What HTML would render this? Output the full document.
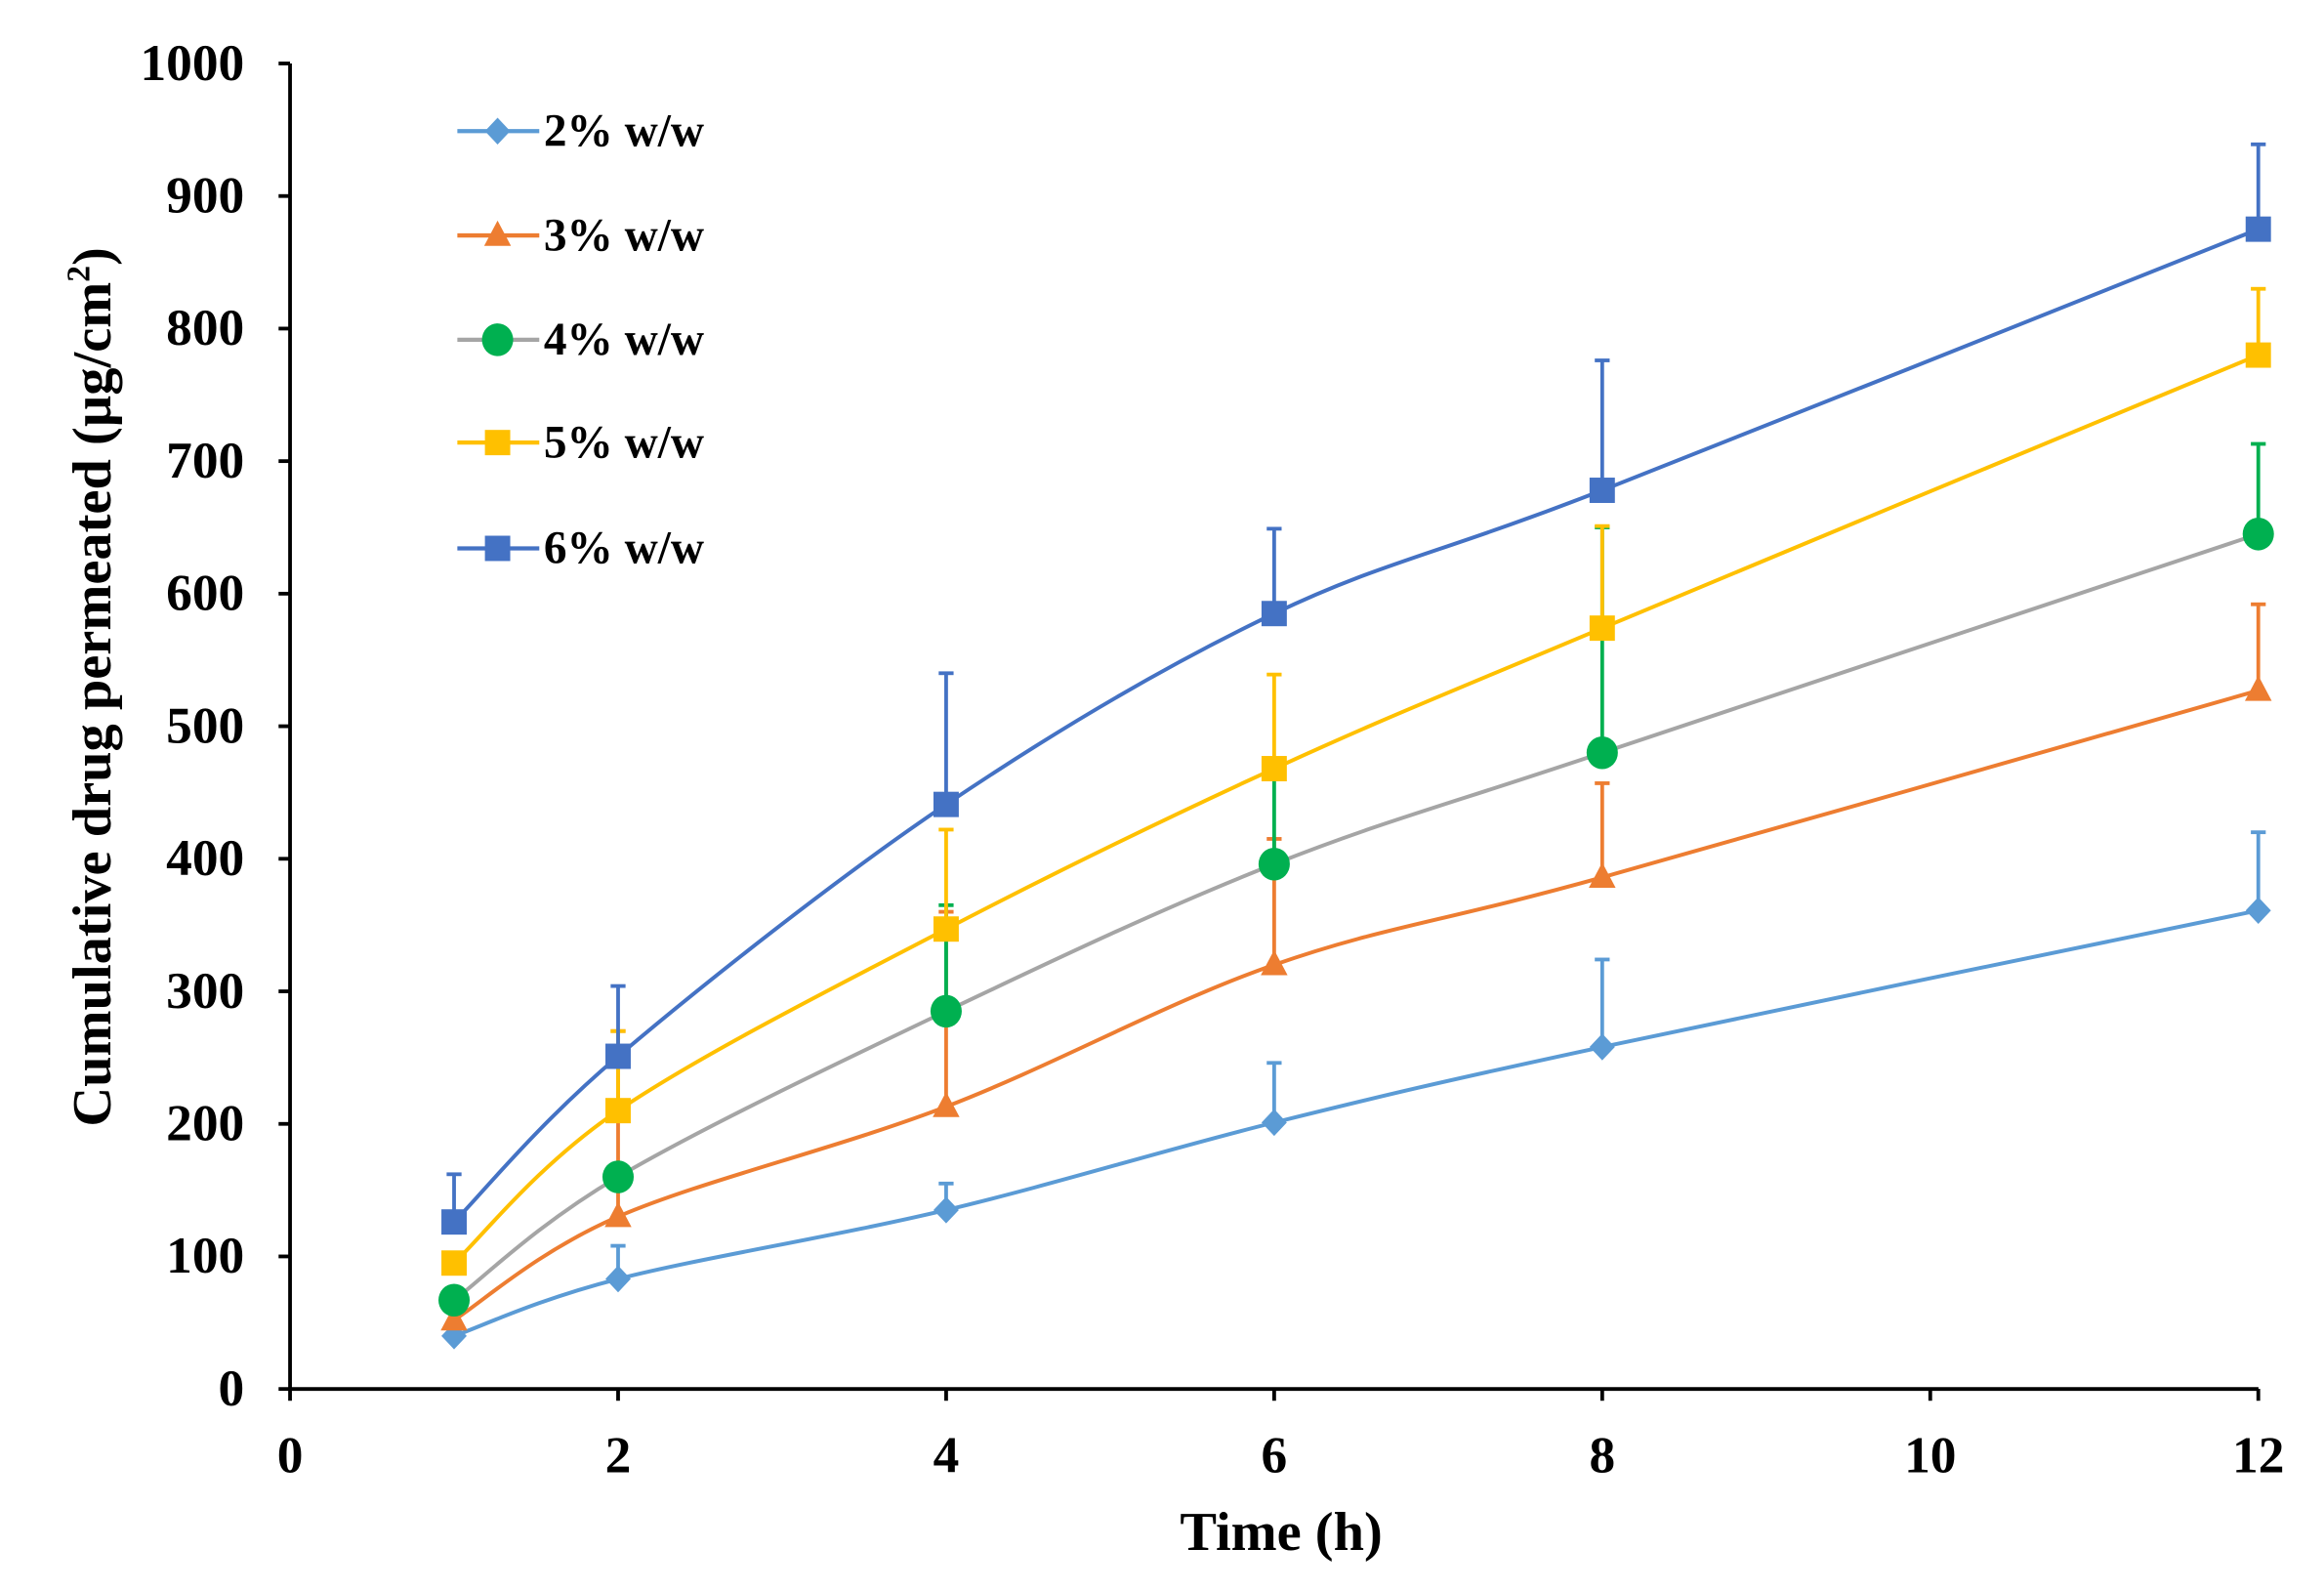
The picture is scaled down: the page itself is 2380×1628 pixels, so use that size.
<!DOCTYPE html>
<html><head><meta charset="utf-8"><style>
html,body{margin:0;padding:0;background:#fff;}
svg{display:block;}
text{font-family:"Liberation Serif",serif;font-weight:bold;fill:#000;}
</style></head><body>
<svg id="s" width="2380" height="1628" viewBox="0 0 1560 1067" preserveAspectRatio="none" xmlns="http://www.w3.org/2000/svg">
<g id="axes" stroke="#000" stroke-width="2.5" fill="none">
<line x1="194.7" y1="42.6" x2="194.7" y2="933.3"/>
<line x1="193.5" y1="932.1" x2="1516" y2="932.1"/>
</g>
<g id="ticks" stroke="#000" stroke-width="2.5"></g>
<g id="labels" font-size="35"></g>
<g id="plot"></g>
<text x="860" y="1040" font-size="37" text-anchor="middle">Time (h)</text>
<text transform="translate(74,461) rotate(-90)" font-size="37" text-anchor="middle">Cumulative drug permeated (µg/cm<tspan font-size="22" dy="-14">2</tspan><tspan dy="14">)</tspan></text>
<g id="legend"></g>
</svg>
<script>
const NS="http://www.w3.org/2000/svg";
const X=t=>194.7+t*110.1, Y=v=>932.1-v*0.8895;
function el(p,tag,a,txt){const e=document.createElementNS(NS,tag);for(const k in a)e.setAttribute(k,a[k]);if(txt!==undefined)e.textContent=txt;document.getElementById(p).appendChild(e);return e;}
for(let v=0;v<=1000;v+=100){el('ticks','line',{x1:187,x2:194.7,y1:Y(v),y2:Y(v)});el('labels','text',{x:164,y:Y(v)+11,'text-anchor':'end'},v);}
for(let t=0;t<=12;t+=2){el('ticks','line',{x1:X(t),x2:X(t),y1:932,y2:940});el('labels','text',{x:X(t),y:988,'text-anchor':'middle'},t);}
const T=[1,2,4,6,8,12];
const S=[
 {c:'#5b9bd5',lc:'#5b9bd5',m:'d',v:[40,83,135,201,258,361],e:[null,108,155,246,324,420]},
 {c:'#ed7d31',lc:'#ed7d31',m:'t',v:[52,130,213,320,386,527],e:[null,270,360,415,457,592]},
 {c:'#00b050',lc:'#a5a5a5',m:'c',v:[67,160,285,396,480,645],e:[null,null,365,465,650,713]},
 {c:'#ffc000',lc:'#ffc000',m:'s',v:[95,210,347,468,574,780],e:[null,270,422,539,651,830]},
 {c:'#4472c4',lc:'#4472c4',m:'s',v:[126,251,441,585,678,875],e:[162,304,540,649,776,939]}];
function path(pts){let d=`M${pts[0][0]},${pts[0][1]}`;for(let i=0;i<pts.length-1;i++){const p0=pts[Math.max(i-1,0)],p1=pts[i],p2=pts[i+1],p3=pts[Math.min(i+2,pts.length-1)];const k=6;d+=` C${p1[0]+(p2[0]-p0[0])/k},${p1[1]+(p2[1]-p0[1])/k} ${p2[0]-(p3[0]-p1[0])/k},${p2[1]-(p3[1]-p1[1])/k} ${p2[0]},${p2[1]}`;}return d;}
function marker(g,m,x,y,c){if(m=='d')el(g,'polygon',{points:`${x},${y-9} ${x+8.5},${y} ${x},${y+9} ${x-8.5},${y}`,fill:c});
 else if(m=='t')el(g,'polygon',{points:`${x},${y-10} ${x+9},${y+7} ${x-9},${y+7}`,fill:c});
 else if(m=='c')el(g,'ellipse',{cx:x,cy:y,rx:10.5,ry:11,fill:c});
 else el(g,'rect',{x:x-8.5,y:y-8.5,width:17,height:17,fill:c});}
S.forEach(s=>{const pts=T.map((t,i)=>[X(t),Y(s.v[i])]);
 s.e.forEach((e,i)=>{if(e==null)return;const x=X(T[i]);el('plot','line',{x1:x,x2:x,y1:Y(s.v[i]),y2:Y(e),stroke:s.c,'stroke-width':2.5});el('plot','line',{x1:x-5,x2:x+5,y1:Y(e),y2:Y(e),stroke:s.c,'stroke-width':2.5});});
 el('plot','path',{d:path(pts),fill:'none',stroke:s.lc,'stroke-width':2.6});
 pts.forEach(p=>marker('plot',s.m,p[0],p[1],s.c));});
const names=['2% w/w','3% w/w','4% w/w','5% w/w','6% w/w'];const ly=[88,158,228,297,368];
S.forEach((s,i)=>{el('legend','line',{x1:307,x2:362,y1:ly[i],y2:ly[i],stroke:s.lc,'stroke-width':2.8});marker('legend',s.m,334,ly[i],s.c);el('legend','text',{x:365,y:ly[i]+10,'font-size':31},names[i]);});
</script>
</body></html>
